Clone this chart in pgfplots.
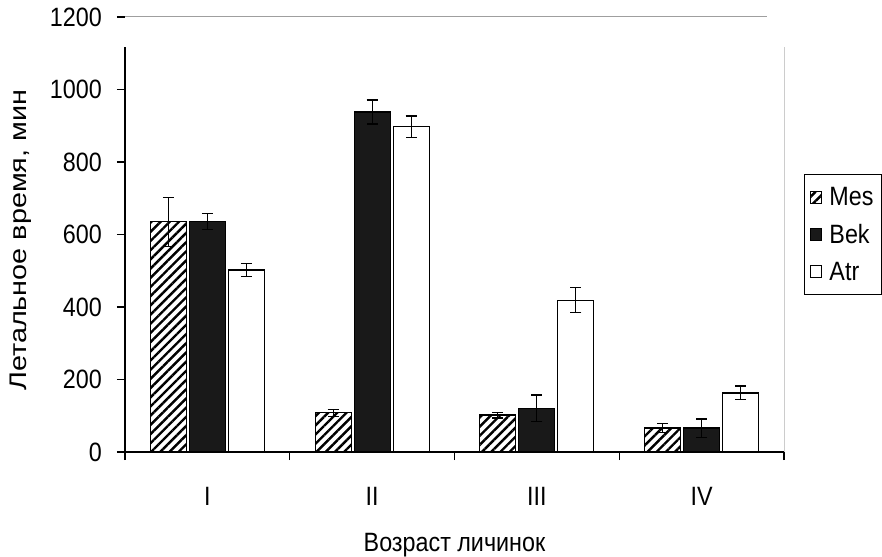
\documentclass[border=0pt]{standalone}
\usepackage{pgfplots}
\pgfplotsset{compat=1.18}
\usepackage{pgfplotstable}
\usepackage{graphicx}
\usepackage{fontspec}
\setmainfont{Liberation Sans}[FakeStretch=0.88]
\newfontfamily\ylabfont{Liberation Sans}
\usetikzlibrary{patterns.meta}
\newcommand\mainf{\fontsize{26.5bp}{30bp}\selectfont}

\pgfplotstableread{
x y e
0 635 68
1 108 10
2 102 8
3 66 12
}\mes
\pgfplotstableread{
x y e
0 635 22
1 938 33
2 121 36
3 66 25
}\bek
\pgfplotstableread{
x y e
0 502 17
1 897 30
2 419 35
3 163 19
}\atr

\begin{document}
\begin{tikzpicture}
\useasboundingbox (-125bp,-105bp) rectangle (757bp,452bp);
\begin{axis}[
  at={(0,0)}, anchor=south west,
  scale only axis, width=659bp, height=435bp,
  clip=false,
  xmin=-0.5, xmax=3.5, ymin=0, ymax=1200,
  ybar=3bp, bar width=36bp,
  xtick={0,1,2,3}, xticklabels={I,II,III,IV},
  minor xtick={-0.5,0.5,1.5,2.5,3.5},
  ytick={0,200,...,1200},
  tick pos=left, tick align=outside,
  major x tick style={draw=none},
  major tick length=8bp, minor tick length=8bp,
  tick style={black, line width=1.1bp},
  axis line style={draw=none},
  /pgf/number format/assume math mode=true,
  /pgf/number format/1000 sep={},
  tick label style={font=\mainf},
  yticklabel style={anchor=east, inner sep=0pt, xshift=-15bp},
  xticklabel style={anchor=base, inner sep=0pt, yshift=-45bp},
  xlabel={Возраст личинок},
  xlabel style={font=\mainf, at={([yshift=-99bp]axis description cs:0.5,0)}, anchor=base, inner sep=0pt},
  ylabel={\scalebox{1.2}[1]{\ylabfont\fontsize{24bp}{28bp}\selectfont Летальное время, мин}},
  ylabel style={at={([xshift=-98bp]axis description cs:0,0.487)}, anchor=base, inner sep=0pt},
  legend style={at={(1.0303,0.639)}, anchor=north west, draw=black, line width=1bp,
    font=\mainf, inner xsep=6bp, inner ysep=11bp, row sep=13bp, column sep=5bp,
    cells={anchor=west}},
  legend image code/.code={\draw[#1,line width=1bp] (0bp,-6bp) rectangle (11bp,6bp);},
]
\addplot[draw=black, line width=1.2bp, pattern={Lines[angle=45,distance=6.5bp,line width=2.4bp]},
  error bars/.cd, y dir=both, y explicit,
  error bar style={line width=1.2bp, black, solid},
  error mark options={rotate=90, mark size=5.5bp, line width=1.2bp, black}]
  table[x=x, y=y, y error=e]{\mes};
\addplot[draw=black, line width=1.2bp, fill=black!90,
  error bars/.cd, y dir=both, y explicit,
  error bar style={line width=1.2bp, black, solid},
  error mark options={rotate=90, mark size=5.5bp, line width=1.2bp, black}]
  table[x=x, y=y, y error=e]{\bek};
\addplot[draw=black, line width=1.2bp, fill=white,
  error bars/.cd, y dir=both, y explicit,
  error bar style={line width=1.2bp, black, solid},
  error mark options={rotate=90, mark size=5.5bp, line width=1.2bp, black}]
  table[x=x, y=y, y error=e]{\atr};
\legend{Mes,Bek,Atr}
\draw[black, line width=1.2bp] (rel axis cs:0,0) -- (rel axis cs:1,0);
\draw[black, line width=1.2bp] (rel axis cs:0,0) -- (rel axis cs:0,0.93);
\draw[gray!75, line width=1bp] (rel axis cs:0,1) -- (rel axis cs:0.974,1);
\draw[gray!40, line width=1bp] (rel axis cs:1,0) -- (rel axis cs:1,0.93);
\end{axis}
\end{tikzpicture}
\end{document}
